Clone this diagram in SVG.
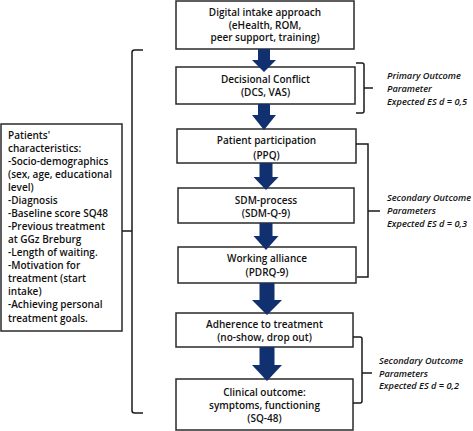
<svg xmlns="http://www.w3.org/2000/svg" width="473" height="431" viewBox="0 0 473 431">
<style>
.box{fill:#fff;stroke:#2a2a2a;stroke-width:1.5}
.t{font-family:"Open Sans","Liberation Sans",sans-serif;font-weight:600;font-size:10px;fill:#111;text-anchor:middle}
.lt{font-family:"Open Sans","Liberation Sans",sans-serif;font-weight:600;font-size:10px;fill:#111}
.it{font-family:"Open Sans","Liberation Sans",sans-serif;font-weight:600;font-style:italic;font-size:9.2px;fill:#111}
.br{fill:none;stroke:#1a1a1a;stroke-width:1.5}
.ar{fill:#10306f}
</style>
<rect width="473" height="431" fill="#fff"/>
<g id="digital-intake">
<rect class="box" x="176" y="1" width="178" height="48"/>
<text class="t" x="265" y="16">Digital intake approach</text>
<text class="t" x="265" y="28.5">(eHealth, ROM,</text>
<text class="t" x="265" y="41">peer support, training)</text>
</g>
<g id="decisional-conflict">
<rect class="box" x="176" y="67" width="179" height="37"/>
<text class="t" x="265.5" y="82.5">Decisional Conflict</text>
<text class="t" x="265.5" y="95.5">(DCS, VAS)</text>
</g>
<g id="patient-participation">
<rect class="box" x="177" y="129" width="179" height="34"/>
<text class="t" x="266.5" y="144">Patient participation</text>
<text class="t" x="266.5" y="158.5">(PPQ)</text>
</g>
<g id="sdm-process">
<rect class="box" x="178" y="188" width="176" height="35"/>
<text class="t" x="266" y="204">SDM-process</text>
<text class="t" x="266" y="217">(SDM-Q-9)</text>
</g>
<g id="working-alliance">
<rect class="box" x="178" y="247" width="178" height="36"/>
<text class="t" x="267" y="262">Working alliance</text>
<text class="t" x="267" y="276">(PDRQ-9)</text>
</g>
<g id="adherence">
<rect class="box" x="176" y="313" width="177" height="34"/>
<text class="t" x="264.5" y="328">Adherence to treatment</text>
<text class="t" x="264.5" y="341">(no-show, drop out)</text>
</g>
<g id="clinical-outcome">
<rect class="box" x="176" y="379" width="177" height="51"/>
<text class="t" x="264.5" y="396">Clinical outcome:</text>
<text class="t" x="264.5" y="409">symptoms, functioning</text>
<text class="t" x="264.5" y="422">(SQ-48)</text>
</g>
<g id="patients-characteristics">
<rect class="box" x="1" y="124" width="121" height="207"/>
<text class="lt" x="8" y="138.5">Patients'</text>
<text class="lt" x="8" y="151.6">characteristics:</text>
<text class="lt" x="8" y="164.6">-Socio-demographics</text>
<text class="lt" x="8" y="177.7">(sex, age, educational</text>
<text class="lt" x="8" y="190.8">level)</text>
<text class="lt" x="8" y="203.8">-Diagnosis</text>
<text class="lt" x="8" y="216.9">-Baseline score SQ48</text>
<text class="lt" x="8" y="230">-Previous treatment</text>
<text class="lt" x="8" y="243">at GGz Breburg</text>
<text class="lt" x="8" y="256.1">-Length of waiting.</text>
<text class="lt" x="8" y="269.2">-Motivation for</text>
<text class="lt" x="8" y="282.3">treatment (start</text>
<text class="lt" x="8" y="295.3">intake)</text>
<text class="lt" x="8" y="308.4">-Achieving personal</text>
<text class="lt" x="8" y="321.5">treatment goals.</text>
</g>
<g id="primary-outcome-label">
<text class="it" x="387" y="78.5">Primary Outcome</text>
<text class="it" x="387" y="92">Parameter</text>
<text class="it" x="387" y="105">Expected ES d = 0,5</text>
</g>
<g id="secondary-outcome-label-1">
<text class="it" x="387" y="201">Secondary Outcome</text>
<text class="it" x="387" y="214">Parameters</text>
<text class="it" x="387" y="227">Expected ES d = 0,3</text>
</g>
<g id="secondary-outcome-label-2">
<text class="it" x="379" y="363.5">Secondary Outcome</text>
<text class="it" x="379" y="376.5">Parameters</text>
<text class="it" x="379" y="389">Expected ES d = 0,2</text>
</g>
<g id="connectors">
<path class="ar" d="M258 49H270V60H276L264 72L252 60H258Z"/>
<path class="ar" d="M258 104H270V115H276L264 130L252 115H258Z"/>
<path class="ar" d="M259.5 163H272.5V177H278.5L266 190L253.5 177H259.5Z"/>
<path class="ar" d="M259.5 223H272.5V236H278.5L266 250L253.5 236H259.5Z"/>
<path class="ar" d="M259.5 283H274.5V300H282L267 315L252 300H259.5Z"/>
<path class="ar" d="M259.5 347H274.5V365H282L267 381L252 365H259.5Z"/>
<path class="br" d="M143 50H134.5Q132 50 132 52.5V410.5Q132 413 134.5 413H143M122 231H132"/>
<path class="br" d="M356 63H362Q364 63 364 65V111Q364 113 362 113H356M364 88H373"/>
<path class="br" d="M356 144H368V277H357M368 211H380"/>
<path class="br" d="M353 337H360Q362 337 362 339V401Q362 403 360 403H353M362 373H372"/>
</g>
</svg>
